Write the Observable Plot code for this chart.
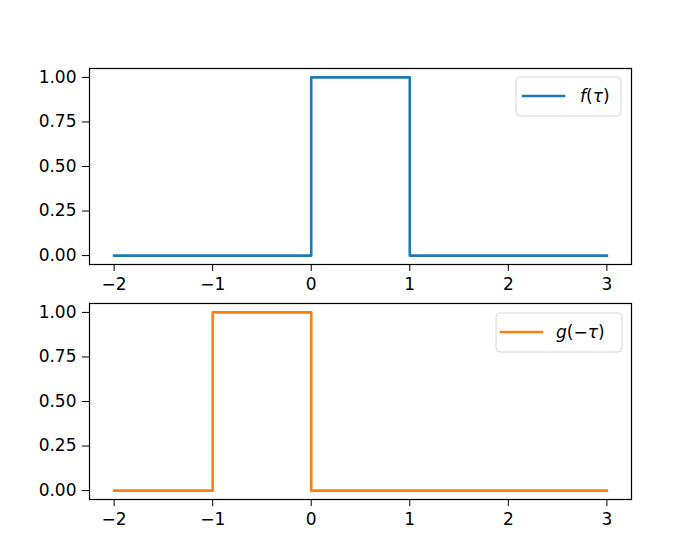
<!DOCTYPE html>
<html>
<head>
<meta charset="utf-8">
<script src="https://cdn.jsdelivr.net/npm/d3@7"></script>
<script src="https://cdn.jsdelivr.net/npm/@observablehq/plot@0.6"></script>
<style>
  html, body { margin: 0; padding: 0; background: #fff; }
  #wrap { position: relative; width: 700px; height: 560px; background: #fff; }
  #wrap > svg { position: absolute; left: 0; }
</style>
</head>
<body>
<div id="wrap"></div>
<script>
// ---- data ----
const fTau = [-2, 0, 0, 1, 1, 3];
const fVal = [0, 0, 1, 1, 0, 0];
const gTau = [-2, -1, -1, 0, 0, 3];
const gVal = [0, 0, 1, 1, 0, 0];
const xTicks = [-2, -1, 0, 1, 2, 3];
const yTicks = [0, 0.25, 0.5, 0.75, 1.0];
const fLabel = ["f", "(", "τ", ")"];
const gLabel = ["g", "(−", "τ", ")"];

const fData = fTau.map((t, i) => ({t, v: fVal[i]}));
const gData = gTau.map((t, i) => ({t, v: gVal[i]}));

const FONT = "DejaVu Sans";
const FS = 17;
const fmtX = d => d < 0 ? "\u2212" + Math.abs(d) : String(d);
const fmtY = d3.format(".2f");

function panel(data, color, height, mTop, mBottom) {
  return Plot.plot({
    width: 700,
    height,
    marginTop: mTop,
    marginBottom: mBottom,
    marginLeft: 89,
    marginRight: 69,
    style: {fontFamily: FONT, fontSize: FS + "px", background: "transparent", color: "#000", overflow: "visible"},
    x: {domain: [-2.25, 3.25], ticks: xTicks, tickFormat: fmtX, tickSize: 7, tickPadding: 6, label: null},
    y: {domain: [-0.05, 1.05], ticks: yTicks, tickFormat: fmtY, tickSize: 7, tickPadding: 6, label: null},
    marks: [
      Plot.line(data, {x: "t", y: "v", stroke: color, strokeWidth: 2.6, strokeLinecap: "square", strokeLinejoin: "round"}),
      Plot.frame({stroke: "#000", strokeWidth: 1.2})
    ]
  });
}

function addLegend(svg, color, parts, box, lineY, lineX0, lineX1, textX) {
  const s = d3.select(svg);
  const g = s.append("g");
  g.append("rect")
    .attr("x", box[0]).attr("y", box[1]).attr("width", box[2]).attr("height", box[3])
    .attr("rx", 4).attr("ry", 4)
    .attr("fill", "rgba(255,255,255,0.8)").attr("stroke", "#d6d6d6").attr("stroke-width", 1);
  g.append("line")
    .attr("x1", lineX0).attr("x2", lineX1).attr("y1", lineY).attr("y2", lineY)
    .attr("stroke", color).attr("stroke-width", 2.6).attr("stroke-linecap", "square");
  const t = g.append("text")
    .attr("x", textX).attr("y", lineY).attr("dy", "0.35em")
    .attr("text-anchor", "start")
    .attr("font-family", FONT).attr("font-size", FS).attr("fill", "#000");
  parts.forEach((p, i) => {
    const ts = t.append("tspan").text(p);
    if (i % 2 === 0) ts.attr("font-style", "italic");
  });
}

const wrap = document.getElementById("wrap");

const topPanel = panel(fData, "#1f77b4", 300, 68, 36);
topPanel.style.top = "0px";
wrap.appendChild(topPanel);
addLegend(topPanel, "#1f77b4", fLabel, [516, 77, 105, 39], 96, 523, 564, 580);

const botPanel = panel(gData, "#ff7f0e", 264, 7, 61);
botPanel.style.top = "296px";
wrap.appendChild(botPanel);
addLegend(botPanel, "#ff7f0e", gLabel, [496, 17, 126, 39], 36, 501, 542, 556);
</script>
</body>
</html>
